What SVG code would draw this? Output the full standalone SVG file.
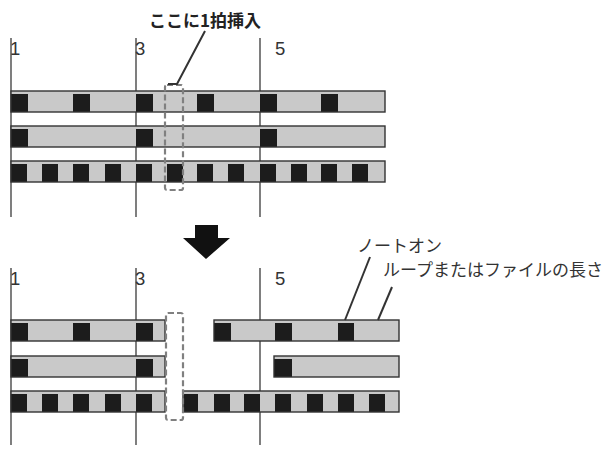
<svg xmlns="http://www.w3.org/2000/svg" width="612" height="454" viewBox="0 0 612 454">
<style>
.bg{fill:#ffffff}
.vl{stroke:#3a3a3a;stroke-width:1.3;fill:none}
.bar{fill:#c9c9c9;stroke:none}
.edge{fill:none;stroke:#333;stroke-width:1.4}
.on{fill:#1c1c1c}
.lead{stroke:#333;stroke-width:2;fill:none}
.dash{fill:none;stroke:#808080;stroke-width:2.2;stroke-dasharray:6 3}
.num{font-family:"Liberation Sans",Arial,sans-serif;font-size:18.5px;fill:#333}
.jp{font-family:"Noto Sans CJK JP","Noto Sans",sans-serif;font-size:17px;fill:#333}
.ttl{font-family:"Noto Sans CJK JP","Noto Sans",sans-serif;font-size:17px;font-weight:bold;fill:#222}
</style>
<rect class="bg" x="0" y="0" width="612" height="454"/>

<!-- TOP SECTION -->
<g id="top-grid">
  <line class="vl" x1="11" y1="38" x2="11" y2="217"/>
  <line class="vl" x1="136" y1="38" x2="136" y2="217"/>
  <line class="vl" x1="260" y1="38" x2="260" y2="217"/>
  <text class="num" x="10" y="55">1</text>
  <text class="num" x="135" y="55">3</text>
  <text class="num" x="275" y="55">5</text>
</g>

<g id="top-row1">
  <rect class="bar" x="11" y="91" width="374" height="21"/>
  <rect class="on" x="11" y="94" width="17" height="18"/>
  <rect class="on" x="73" y="94" width="17" height="18"/>
  <rect class="on" x="136" y="94" width="17" height="18"/>
  <rect class="on" x="197" y="94" width="17" height="18"/>
  <rect class="on" x="260" y="94" width="17" height="18"/>
  <rect class="on" x="321" y="94" width="17" height="18"/>
  <rect class="edge" x="11" y="91" width="374" height="21"/>
</g>
<g id="top-row2">
  <rect class="bar" x="11" y="126" width="374" height="21"/>
  <rect class="on" x="11" y="129" width="17" height="18"/>
  <rect class="on" x="136" y="129" width="17" height="18"/>
  <rect class="on" x="260" y="129" width="17" height="18"/>
  <rect class="edge" x="11" y="126" width="374" height="21"/>
</g>
<g id="top-row3">
  <rect class="bar" x="11" y="161" width="374" height="21"/>
  <rect class="on" x="11" y="164" width="16" height="18"/>
  <rect class="on" x="42" y="164" width="16" height="18"/>
  <rect class="on" x="73" y="164" width="16" height="18"/>
  <rect class="on" x="105" y="164" width="16" height="18"/>
  <rect class="on" x="136" y="164" width="16" height="18"/>
  <rect class="on" x="167" y="164" width="16" height="18"/>
  <rect class="on" x="197" y="164" width="16" height="18"/>
  <rect class="on" x="228" y="164" width="16" height="18"/>
  <rect class="on" x="260" y="164" width="16" height="18"/>
  <rect class="on" x="291" y="164" width="16" height="18"/>
  <rect class="on" x="321" y="164" width="16" height="18"/>
  <rect class="on" x="352" y="164" width="16" height="18"/>
  <rect class="edge" x="11" y="161" width="374" height="21"/>
</g>

<g id="insert-label">
  <text class="ttl" x="205" y="27" text-anchor="middle">ここに1拍挿入</text>
</g>
<g id="insert-box-top">
  <rect class="dash" x="165" y="85" width="18" height="105" rx="2"/>
</g>

<!-- ARROW -->
<g id="down-arrow">
  <polygon fill="#111" points="195,225 218,225 218,238 230,238 206,259 183,238 195,238"/>
</g>

<!-- BOTTOM SECTION -->
<g id="bottom-grid">
  <line class="vl" x1="11" y1="268" x2="11" y2="445"/>
  <line class="vl" x1="136" y1="268" x2="136" y2="445"/>
  <line class="vl" x1="260" y1="268" x2="260" y2="445"/>
  <text class="num" x="10" y="285">1</text>
  <text class="num" x="135" y="285">3</text>
  <text class="num" x="275" y="285">5</text>
</g>

<g id="bottom-row1">
  <rect class="bar" x="11" y="320" width="154" height="21"/>
  <rect class="on" x="11" y="323" width="17" height="18"/>
  <rect class="on" x="73" y="323" width="17" height="18"/>
  <rect class="on" x="136" y="323" width="17" height="18"/>
  <rect class="edge" x="11" y="320" width="154" height="21"/>
  <rect class="bar" x="214" y="320" width="185" height="21"/>
  <rect class="on" x="214" y="323" width="17" height="18"/>
  <rect class="on" x="275" y="323" width="17" height="18"/>
  <rect class="on" x="338" y="323" width="16" height="18"/>
  <rect class="edge" x="214" y="320" width="185" height="21"/>
</g>
<g id="bottom-row2">
  <rect class="bar" x="11" y="356" width="154" height="21"/>
  <rect class="on" x="11" y="359" width="17" height="18"/>
  <rect class="on" x="136" y="359" width="17" height="18"/>
  <rect class="edge" x="11" y="356" width="154" height="21"/>
  <rect class="bar" x="274" y="356" width="125" height="21"/>
  <rect class="on" x="274" y="359" width="18" height="18"/>
  <rect class="edge" x="274" y="356" width="125" height="21"/>
</g>
<g id="bottom-row3">
  <rect class="bar" x="11" y="391" width="154" height="21"/>
  <rect class="on" x="11" y="394" width="16" height="18"/>
  <rect class="on" x="42" y="394" width="16" height="18"/>
  <rect class="on" x="73" y="394" width="16" height="18"/>
  <rect class="on" x="105" y="394" width="16" height="18"/>
  <rect class="on" x="136" y="394" width="16" height="18"/>
  <rect class="edge" x="11" y="391" width="154" height="21"/>
  <rect class="bar" x="183" y="391" width="216" height="21"/>
  <rect class="on" x="184" y="394" width="14" height="18"/>
  <rect class="on" x="214" y="394" width="16" height="18"/>
  <rect class="on" x="244" y="394" width="16" height="18"/>
  <rect class="on" x="275" y="394" width="16" height="18"/>
  <rect class="on" x="307" y="394" width="16" height="18"/>
  <rect class="on" x="338" y="394" width="16" height="18"/>
  <rect class="on" x="369" y="394" width="16" height="18"/>
  <rect class="edge" x="183" y="391" width="216" height="21"/>
</g>

<g id="insert-box-bottom">
  <rect class="dash" x="166" y="313" width="17" height="107" rx="2"/>
</g>

<g id="note-on-label">
  <text class="jp" x="357" y="252">ノートオン</text>
</g>
<g id="length-label">
  <text class="jp" x="383" y="276">ループまたはファイルの長さ</text>
</g>

<g id="connectors">
  <polyline class="lead" points="205,31 177,84 168,84"/>
  <line class="lead" x1="370" y1="257" x2="345" y2="320"/>
  <line class="lead" x1="392" y1="287" x2="378" y2="320"/>
</g>
</svg>
